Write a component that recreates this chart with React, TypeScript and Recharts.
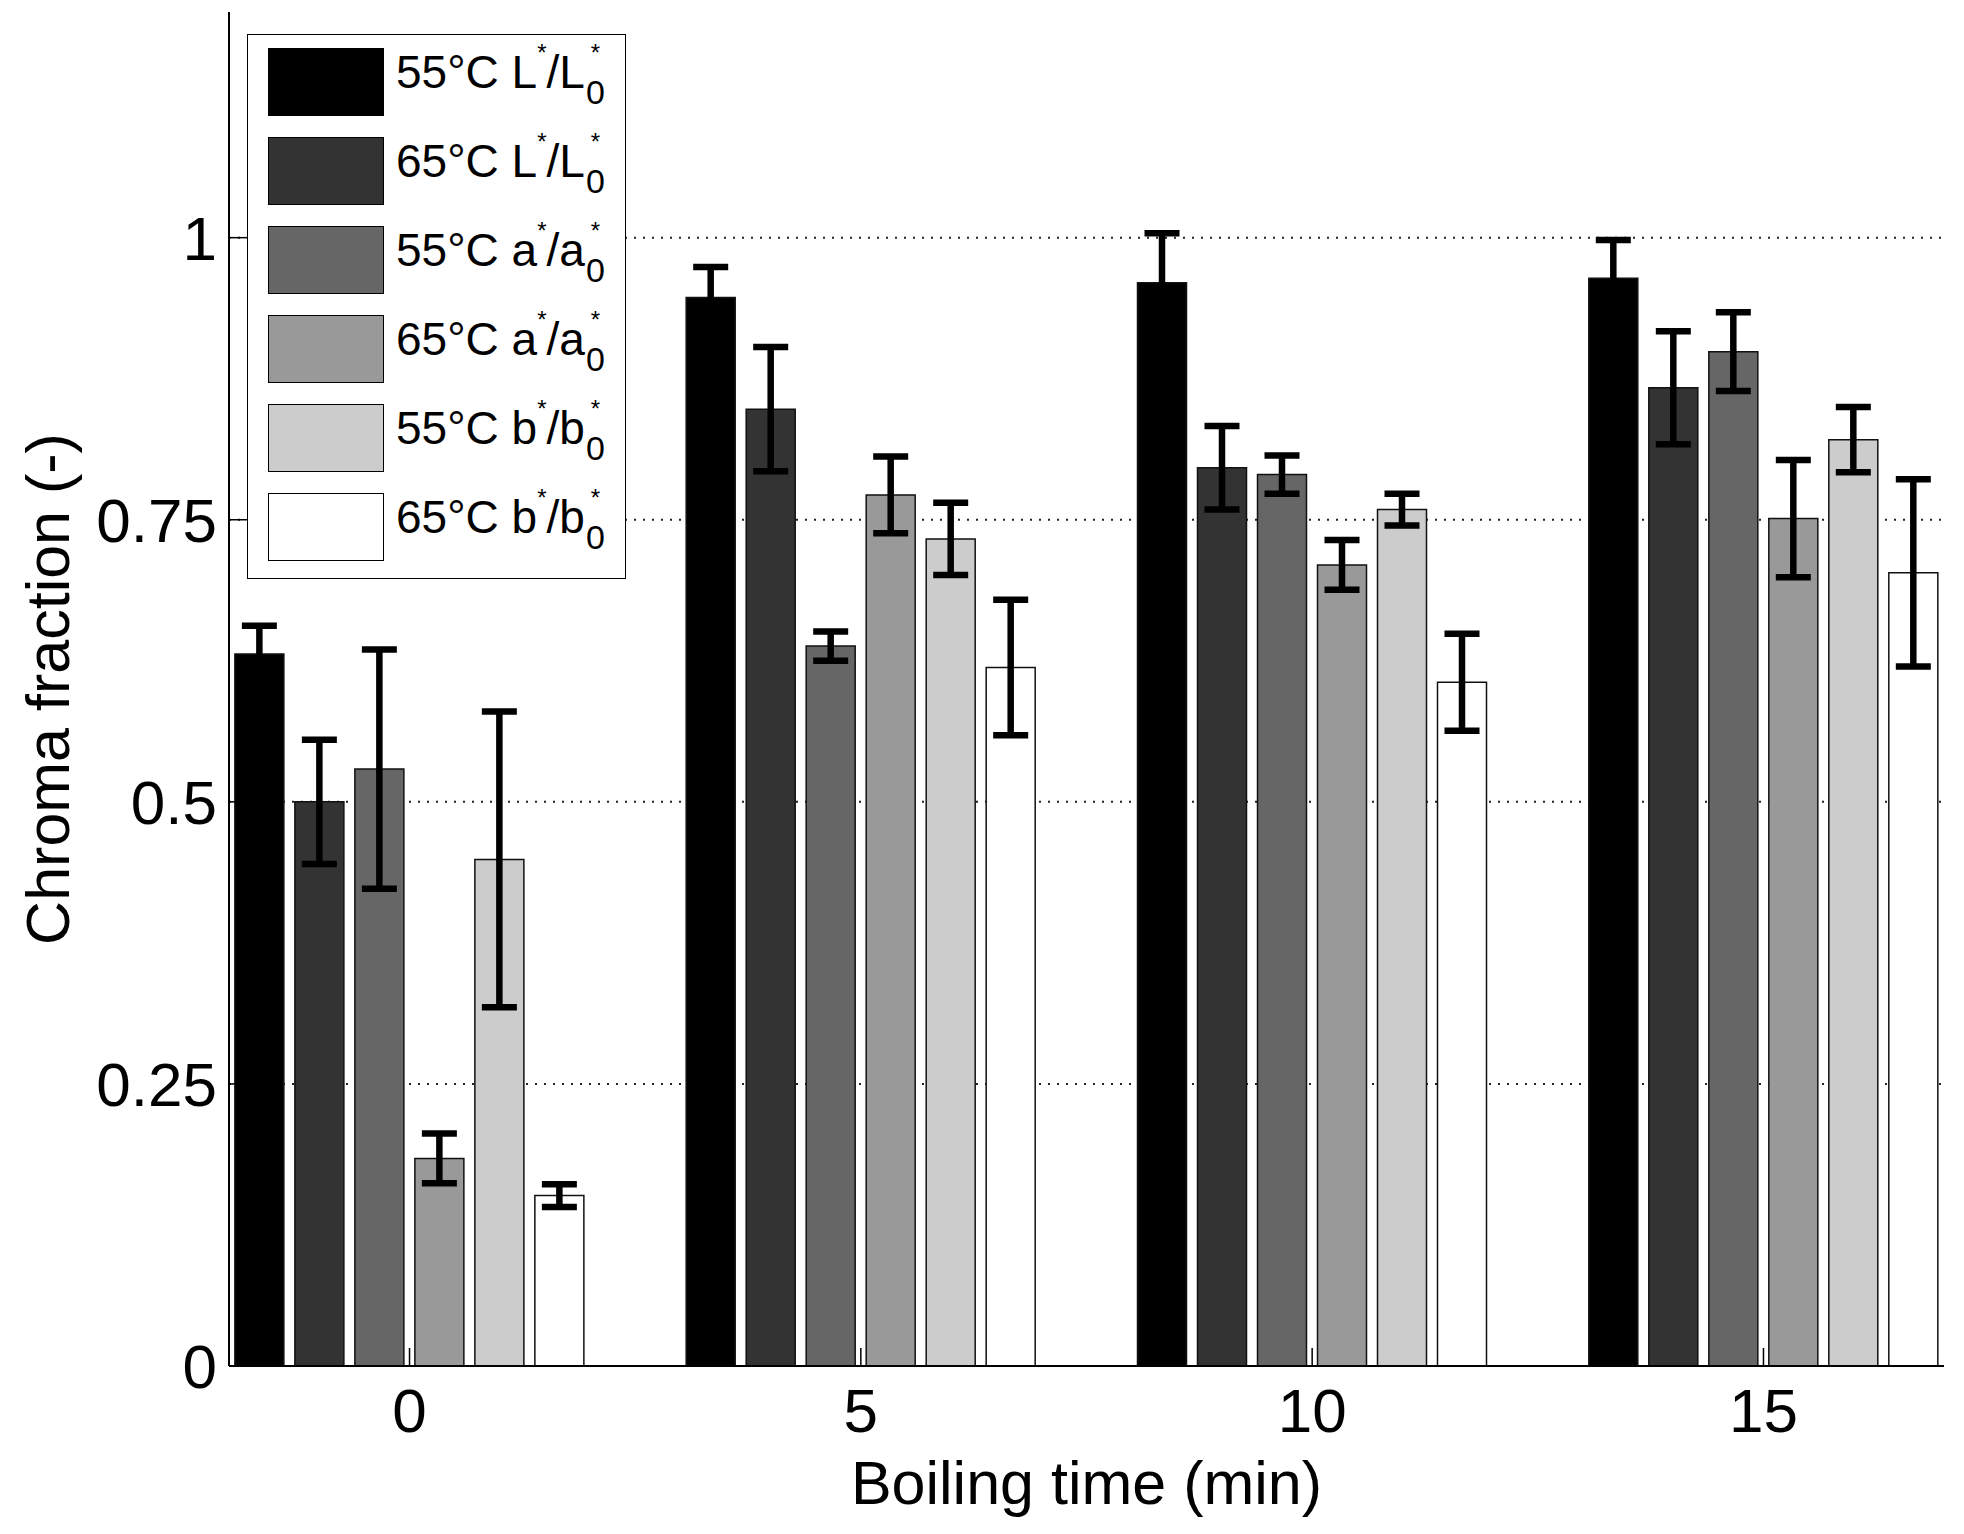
import React from "react";
import {
  BarChart,
  Bar,
  XAxis,
  YAxis,
  CartesianGrid,
  ErrorBar,
  Legend,
  Label,
} from "recharts";

// boiling times (min)
const times = [0, 5, 10, 15];

// means per series, one value per boiling time
const l55 = [0.631, 0.947, 0.96, 0.964];
const l65 = [0.5, 0.848, 0.796, 0.867];
const a55 = [0.529, 0.638, 0.79, 0.899];
const a65 = [0.184, 0.772, 0.71, 0.751];
const b55 = [0.449, 0.733, 0.759, 0.821];
const b65 = [0.151, 0.619, 0.606, 0.703];

// symmetric errors
const l55Err = [0.025, 0.027, 0.044, 0.034];
const l65Err = [0.055, 0.055, 0.037, 0.05];
const a55Err = [0.106, 0.013, 0.017, 0.035];
const a65Err = [0.022, 0.034, 0.022, 0.052];
const b55Err = [0.131, 0.032, 0.014, 0.029];
const b65Err = [0.01, 0.06, 0.043, 0.083];

const yTicks = [0, 0.25, 0.5, 0.75, 1];
const gridValues = [0.25, 0.5, 0.75, 1];

const series = [
  { key: "l55", temp: "55°C", sym: "L", fill: "#000000", vals: l55, err: l55Err },
  { key: "l65", temp: "65°C", sym: "L", fill: "#333333", vals: l65, err: l65Err },
  { key: "a55", temp: "55°C", sym: "a", fill: "#666666", vals: a55, err: a55Err },
  { key: "a65", temp: "65°C", sym: "a", fill: "#999999", vals: a65, err: a65Err },
  { key: "b55", temp: "55°C", sym: "b", fill: "#cccccc", vals: b55, err: b55Err },
  { key: "b65", temp: "65°C", sym: "b", fill: "#ffffff", vals: b65, err: b65Err },
];

const data = times.map((t, i) => {
  const row: Record<string, number> = { t };
  series.forEach((s) => {
    row[s.key] = s.vals[i];
    row[s.key + "Err"] = s.err[i];
  });
  return row;
});

const FONT = "'Liberation Sans', Arial, Helvetica, sans-serif";

function LegendBox() {
  return (
    <div
      style={{
        width: 379,
        height: 545,
        boxSizing: "border-box",
        border: "1.5px solid #000",
        background: "#fff",
        position: "relative",
        fontFamily: FONT,
        color: "#000",
      }}
    >
      {series.map((s, i) => (
        <div
          key={s.key}
          style={{ position: "absolute", left: 20, top: 12 + i * 89, height: 70, display: "flex", alignItems: "center" }}
        >
          <div
            style={{
              width: 116,
              height: 68,
              boxSizing: "border-box",
              background: s.fill,
              border: "1.5px solid #000",
            }}
          />
          <div style={{ marginLeft: 12, fontSize: 46, lineHeight: "46px", whiteSpace: "nowrap", display: "flex", alignItems: "flex-start", marginTop: -6 }}>
            <span>{s.temp} {s.sym}</span>
            <span style={{ fontSize: 24, lineHeight: "24px", marginTop: -8 }}>*</span>
            <span>/{s.sym}</span>
            <span style={{ display: "inline-flex", flexDirection: "column", alignItems: "center", marginTop: -8, marginLeft: 1 }}>
              <span style={{ fontSize: 24, lineHeight: "24px" }}>*</span>
              <span style={{ fontSize: 34, lineHeight: "34px", marginTop: 10 }}>0</span>
            </span>
          </div>
        </div>
      ))}
    </div>
  );
}

export default function App() {
  return (
    <div style={{ width: 1948, height: 1518, background: "#fff" }}>
      <BarChart
        width={1948}
        height={1518}
        data={data}
        margin={{ top: 4, right: 12, left: 0, bottom: 0 }}
        barSize={49}
        barGap={11}
      >
        <CartesianGrid
          horizontal
          vertical={false}
          horizontalValues={gridValues}
          stroke="#222"
          strokeWidth={2}
          strokeDasharray="2 7"
        />
        <XAxis
          dataKey="t"
          type="number"
          domain={[-2, 17]}
          ticks={times}
          interval={0}
          height={160}
          axisLine={{ stroke: "#000", strokeWidth: 2 }}
          tickLine={{ stroke: "#000", strokeWidth: 1.5 }}
          tickSize={-18}
          tickMargin={40}
          tick={{ fill: "#000", fontSize: 62, fontFamily: FONT }}
        >
          <Label
            content={(props: any) => {
              const vb = props.viewBox || {};
              return (
                <text
                  x={vb.x + vb.width / 2}
                  y={vb.y + 117}
                  textAnchor="middle"
                  dominantBaseline="central"
                  fontSize={61}
                  fontFamily={FONT}
                  fill="#000"
                >
                  Boiling time (min)
                </text>
              );
            }}
          />
        </XAxis>
        <YAxis
          type="number"
          domain={[0, 1.2]}
          ticks={yTicks}
          interval={0}
          width={221}
          axisLine={{ stroke: "#000", strokeWidth: 2 }}
          tickLine={{ stroke: "#000", strokeWidth: 1.5 }}
          tickSize={-18}
          tickMargin={30}
          tick={{ fill: "#000", fontSize: 62, fontFamily: FONT }}
        >
          <Label
            content={(props: any) => {
              const vb = props.viewBox || {};
              const cx = vb.x + 40;
              const cy = vb.y + vb.height / 2;
              return (
                <text
                  x={cx}
                  y={cy}
                  transform={`rotate(-90, ${cx}, ${cy})`}
                  textAnchor="middle"
                  dominantBaseline="central"
                  fontSize={61}
                  fontFamily={FONT}
                  fill="#000"
                >
                  Chroma fraction (-)
                </text>
              );
            }}
          />
        </YAxis>
        <Legend
          layout="vertical"
          align="center"
          verticalAlign="middle"
          wrapperStyle={{ left: 239, top: 26, width: 379, height: 545 }}
          content={() => <LegendBox />}
        />
        {series.map((s) => (
          <Bar
            key={s.key}
            dataKey={s.key}
            name={`${s.temp} ${s.sym}*/${s.sym}0*`}
            fill={s.fill}
            stroke="#111"
            strokeWidth={1.5}
            isAnimationActive={false}
          >
            <ErrorBar
              dataKey={s.key + "Err"}
              direction="y"
              width={17.5}
              stroke="#000"
              strokeWidth={6.5}
            />
          </Bar>
        ))}
      </BarChart>
    </div>
  );
}
